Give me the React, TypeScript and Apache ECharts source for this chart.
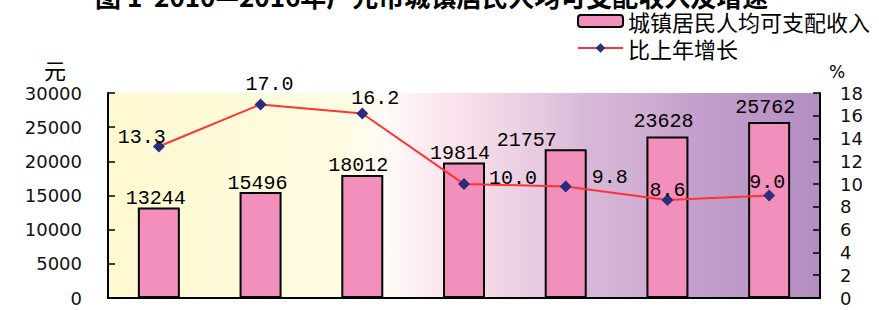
import React, { useEffect, useRef } from "react";
import * as echarts from "echarts";

const years = ["2010", "2011", "2012", "2013", "2014", "2015", "2016"];
const income = [13244, 15496, 18012, 19814, 21757, 23628, 25762];
const growth = [13.3, 17.0, 16.2, 10.0, 9.8, 8.6, 9.0];
const incomeLabelOffsets = [[-3, 1], [-3, 1], [-4, 1], [-4, 1], [-39, 1], [-4, -5], [-4, -4]];
const growthLabelOffsets = [[-17, -9], [9, -20], [13, -15], [49, -6], [44, -9], [0, -10], [-2, -13]];

const titleText = "图 1  2010—2016年广元市城镇居民人均可支配收入及增速";
const seriesNames = ["城镇居民人均可支配收入", "比上年增长"];

export default function App() {
  const ref = useRef<HTMLDivElement>(null);
  useEffect(() => {
    if (!ref.current) return;
    document.body.style.margin = "0";
    const chart = echarts.init(ref.current, null, { renderer: "svg" });
    const mono = "Liberation Mono";
    chart.setOption({
      animation: false,
      backgroundColor: "#ffffff",
      title: {
        text: titleText,
        left: 95,
        top: -18,
        padding: 0,
        textStyle: { fontSize: 26, lineHeight: 26, fontWeight: "bold", color: "#000", fontFamily: "Noto Sans CJK SC" },
      },
      legend: {
        orient: "vertical",
        left: 577,
        top: 10,
        padding: 0,
        itemWidth: 45,
        itemHeight: 12,
        itemGap: 5,
        textStyle: { fontSize: 22, color: "#000", fontFamily: "Noto Sans CJK SC" },
        data: seriesNames,
      },
      grid: {
        left: 108,
        right: 59,
        top: 93,
        bottom: 12,
        show: true,
        borderWidth: 0,
        backgroundColor: {
          type: "linear",
          x: 0, y: 0, x2: 1, y2: 0,
          colorStops: [
            { offset: 0, color: "#FFF9D0" },
            { offset: 0.33, color: "#FFFCE2" },
            { offset: 0.39, color: "#FFFBF6" },
            { offset: 0.47, color: "#FBE6EF" },
            { offset: 0.53, color: "#F3DAE8" },
            { offset: 0.61, color: "#E6C8E0" },
            { offset: 0.67, color: "#D8B8D8" },
            { offset: 0.75, color: "#D0AED3" },
            { offset: 0.82, color: "#C6A0CC" },
            { offset: 0.9, color: "#BC98C6" },
            { offset: 1, color: "#B48DC2" },
          ],
        },
      },
      graphic: [
        { type: "text", left: 44, top: 58, style: { text: "元", fontSize: 22, fill: "#000", fontFamily: "Noto Sans CJK SC" } },
        { type: "text", left: 829, top: 63, style: { text: "%", fontSize: 17, fill: "#000", fontFamily: "DejaVu Sans" } },
      ],
      xAxis: {
        type: "category",
        data: years,
        axisLine: { lineStyle: { color: "#000", width: 2 } },
        axisTick: { inside: true, length: 7, lineStyle: { color: "#000", width: 1.5 } },
        axisLabel: { show: false },
      },
      yAxis: [
        {
          type: "value",
          min: 0,
          max: 30000,
          interval: 5000,
          splitLine: { show: false },
          axisLine: { show: true, lineStyle: { color: "#000", width: 2 } },
          axisTick: { show: true, inside: true, length: 7, lineStyle: { color: "#000", width: 1.5 } },
          axisLabel: {
            margin: 26,
            fontSize: 18,
            color: "#111",
            fontFamily: "DejaVu Sans",
            padding: [12, 0, 0, 0],
            formatter: (v: number) => String(v),
          },
        },
        {
          type: "value",
          min: 0,
          max: 18,
          interval: 2,
          splitLine: { show: false },
          axisLine: { show: true, lineStyle: { color: "#000", width: 2 } },
          axisTick: { show: true, inside: true, length: 7, lineStyle: { color: "#000", width: 1.5 } },
          axisLabel: { margin: 20, fontSize: 18, color: "#111", fontFamily: "DejaVu Sans", padding: [10, 0, 0, 0] },
        },
      ],
      series: [
        {
          name: seriesNames[0],
          type: "bar",
          yAxisIndex: 0,
          barWidth: 42,
          itemStyle: { color: "#F28FBD", borderColor: "#000", borderWidth: 2 },
          data: income.map((v, i) => ({
            value: v,
            label: { offset: incomeLabelOffsets[i] },
          })),
          label: {
            show: true,
            position: "top",
            distance: 0,
            fontSize: 20,
            color: "#000",
            fontFamily: mono,
          },
          z: 2,
        },
        {
          name: seriesNames[1],
          type: "line",
          yAxisIndex: 1,
          symbol: "diamond",
          symbolSize: 12,
          lineStyle: { color: "#FF3333", width: 2 },
          itemStyle: { color: "#2B2C7E" },
          data: growth.map((v, i) => ({
            value: v,
            label: { offset: growthLabelOffsets[i] },
          })),
          label: {
            show: true,
            position: "inside",
            fontSize: 20,
            color: "#000",
            fontFamily: mono,
            formatter: (p: any) => Number(p.value).toFixed(1),
          },
          z: 3,
        },
      ],
    });
    return () => chart.dispose();
  }, []);
  return <div ref={ref} style={{ width: 879, height: 310 }} />;
}
